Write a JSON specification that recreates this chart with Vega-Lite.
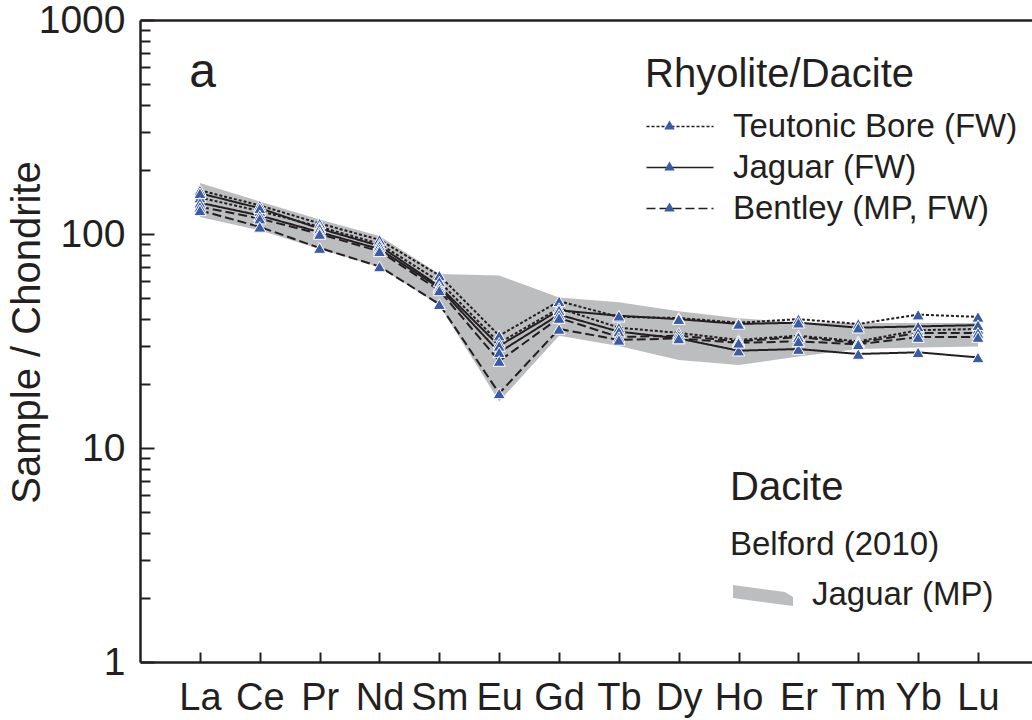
{
  "$schema": "https://vega.github.io/schema/vega-lite/v6.json",
  "width": 892,
  "height": 642,
  "autosize": {"type": "none"},
  "padding": {"left": 140, "top": 20, "right": 0, "bottom": 58},
  "background": "white",
  "config": {"view": {"stroke": null}, "font": "Liberation Sans"},
  "title": {
    "text": "Dacite",
    "subtitle": "Belford (2010)",
    "anchor": "start",
    "frame": "group",
    "orient": "top",
    "dx": 590,
    "dy": 561,
    "offset": 0,
    "fontSize": 40,
    "fontWeight": "normal",
    "subtitleFontSize": 33,
    "subtitlePadding": 21,
    "color": "#231f20",
    "subtitleColor": "#231f20",
    "font": "Liberation Sans",
    "subtitleFont": "Liberation Sans"
  },
  "datasets": {
    "band": [
      {"el": "La", "lo": 120, "hi": 173, "band": "Jaguar (MP)"},
      {"el": "Ce", "lo": 104, "hi": 142, "band": "Jaguar (MP)"},
      {"el": "Pr", "lo": 85, "hi": 117, "band": "Jaguar (MP)"},
      {"el": "Nd", "lo": 70, "hi": 98, "band": "Jaguar (MP)"},
      {"el": "Sm", "lo": 46.5, "hi": 65, "band": "Jaguar (MP)"},
      {"el": "Eu", "lo": 16.5, "hi": 64, "band": "Jaguar (MP)"},
      {"el": "Gd", "lo": 33.5, "hi": 50.5, "band": "Jaguar (MP)"},
      {"el": "Tb", "lo": 30, "hi": 48, "band": "Jaguar (MP)"},
      {"el": "Dy", "lo": 25.8, "hi": 43.5, "band": "Jaguar (MP)"},
      {"el": "Ho", "lo": 24.4, "hi": 40.4, "band": "Jaguar (MP)"},
      {"el": "Er", "lo": 26.8, "hi": 38.6, "band": "Jaguar (MP)"},
      {"el": "Tm", "lo": 29, "hi": 38.4, "band": "Jaguar (MP)"},
      {"el": "Yb", "lo": 29.5, "hi": 38.4, "band": "Jaguar (MP)"},
      {"el": "Lu", "lo": 29.8, "hi": 38.4, "band": "Jaguar (MP)"}
    ],
    "rees": [
      {"s": "TB1", "suite": "Teutonic Bore (FW)", "el": "La", "v": 160},
      {"s": "TB1", "suite": "Teutonic Bore (FW)", "el": "Ce", "v": 136},
      {"s": "TB1", "suite": "Teutonic Bore (FW)", "el": "Pr", "v": 112},
      {"s": "TB1", "suite": "Teutonic Bore (FW)", "el": "Nd", "v": 94},
      {"s": "TB1", "suite": "Teutonic Bore (FW)", "el": "Sm", "v": 64},
      {"s": "TB1", "suite": "Teutonic Bore (FW)", "el": "Eu", "v": 33.5},
      {"s": "TB1", "suite": "Teutonic Bore (FW)", "el": "Gd", "v": 48.5},
      {"s": "TB1", "suite": "Teutonic Bore (FW)", "el": "Tb", "v": 41},
      {"s": "TB1", "suite": "Teutonic Bore (FW)", "el": "Dy", "v": 40.5},
      {"s": "TB1", "suite": "Teutonic Bore (FW)", "el": "Ho", "v": 38.5},
      {"s": "TB1", "suite": "Teutonic Bore (FW)", "el": "Er", "v": 40},
      {"s": "TB1", "suite": "Teutonic Bore (FW)", "el": "Tm", "v": 38},
      {"s": "TB1", "suite": "Teutonic Bore (FW)", "el": "Yb", "v": 42},
      {"s": "TB1", "suite": "Teutonic Bore (FW)", "el": "Lu", "v": 41},
      {"s": "TB2", "suite": "Teutonic Bore (FW)", "el": "La", "v": 148},
      {"s": "TB2", "suite": "Teutonic Bore (FW)", "el": "Ce", "v": 128},
      {"s": "TB2", "suite": "Teutonic Bore (FW)", "el": "Pr", "v": 108},
      {"s": "TB2", "suite": "Teutonic Bore (FW)", "el": "Nd", "v": 90},
      {"s": "TB2", "suite": "Teutonic Bore (FW)", "el": "Sm", "v": 60},
      {"s": "TB2", "suite": "Teutonic Bore (FW)", "el": "Eu", "v": 31},
      {"s": "TB2", "suite": "Teutonic Bore (FW)", "el": "Gd", "v": 45},
      {"s": "TB2", "suite": "Teutonic Bore (FW)", "el": "Tb", "v": 36.5},
      {"s": "TB2", "suite": "Teutonic Bore (FW)", "el": "Dy", "v": 34.5},
      {"s": "TB2", "suite": "Teutonic Bore (FW)", "el": "Ho", "v": 32},
      {"s": "TB2", "suite": "Teutonic Bore (FW)", "el": "Er", "v": 33.5},
      {"s": "TB2", "suite": "Teutonic Bore (FW)", "el": "Tm", "v": 31.5},
      {"s": "TB2", "suite": "Teutonic Bore (FW)", "el": "Yb", "v": 35.5},
      {"s": "TB2", "suite": "Teutonic Bore (FW)", "el": "Lu", "v": 36},
      {"s": "J1", "suite": "Jaguar (FW)", "el": "La", "v": 155},
      {"s": "J1", "suite": "Jaguar (FW)", "el": "Ce", "v": 132},
      {"s": "J1", "suite": "Jaguar (FW)", "el": "Pr", "v": 106},
      {"s": "J1", "suite": "Jaguar (FW)", "el": "Nd", "v": 88},
      {"s": "J1", "suite": "Jaguar (FW)", "el": "Sm", "v": 57},
      {"s": "J1", "suite": "Jaguar (FW)", "el": "Eu", "v": 30},
      {"s": "J1", "suite": "Jaguar (FW)", "el": "Gd", "v": 44},
      {"s": "J1", "suite": "Jaguar (FW)", "el": "Tb", "v": 41.5},
      {"s": "J1", "suite": "Jaguar (FW)", "el": "Dy", "v": 40},
      {"s": "J1", "suite": "Jaguar (FW)", "el": "Ho", "v": 38},
      {"s": "J1", "suite": "Jaguar (FW)", "el": "Er", "v": 38.5},
      {"s": "J1", "suite": "Jaguar (FW)", "el": "Tm", "v": 36.5},
      {"s": "J1", "suite": "Jaguar (FW)", "el": "Yb", "v": 37},
      {"s": "J1", "suite": "Jaguar (FW)", "el": "Lu", "v": 37.5},
      {"s": "J2", "suite": "Jaguar (FW)", "el": "La", "v": 140},
      {"s": "J2", "suite": "Jaguar (FW)", "el": "Ce", "v": 122},
      {"s": "J2", "suite": "Jaguar (FW)", "el": "Pr", "v": 102},
      {"s": "J2", "suite": "Jaguar (FW)", "el": "Nd", "v": 85},
      {"s": "J2", "suite": "Jaguar (FW)", "el": "Sm", "v": 56},
      {"s": "J2", "suite": "Jaguar (FW)", "el": "Eu", "v": 28},
      {"s": "J2", "suite": "Jaguar (FW)", "el": "Gd", "v": 42},
      {"s": "J2", "suite": "Jaguar (FW)", "el": "Tb", "v": 35},
      {"s": "J2", "suite": "Jaguar (FW)", "el": "Dy", "v": 32.5},
      {"s": "J2", "suite": "Jaguar (FW)", "el": "Ho", "v": 28.5},
      {"s": "J2", "suite": "Jaguar (FW)", "el": "Er", "v": 29},
      {"s": "J2", "suite": "Jaguar (FW)", "el": "Tm", "v": 27.5},
      {"s": "J2", "suite": "Jaguar (FW)", "el": "Yb", "v": 28},
      {"s": "J2", "suite": "Jaguar (FW)", "el": "Lu", "v": 26.5},
      {"s": "B1", "suite": "Bentley (MP, FW)", "el": "La", "v": 134},
      {"s": "B1", "suite": "Bentley (MP, FW)", "el": "Ce", "v": 118},
      {"s": "B1", "suite": "Bentley (MP, FW)", "el": "Pr", "v": 100},
      {"s": "B1", "suite": "Bentley (MP, FW)", "el": "Nd", "v": 83},
      {"s": "B1", "suite": "Bentley (MP, FW)", "el": "Sm", "v": 54.5},
      {"s": "B1", "suite": "Bentley (MP, FW)", "el": "Eu", "v": 25.5},
      {"s": "B1", "suite": "Bentley (MP, FW)", "el": "Gd", "v": 40.5},
      {"s": "B1", "suite": "Bentley (MP, FW)", "el": "Tb", "v": 33},
      {"s": "B1", "suite": "Bentley (MP, FW)", "el": "Dy", "v": 33.5},
      {"s": "B1", "suite": "Bentley (MP, FW)", "el": "Ho", "v": 31.5},
      {"s": "B1", "suite": "Bentley (MP, FW)", "el": "Er", "v": 33},
      {"s": "B1", "suite": "Bentley (MP, FW)", "el": "Tm", "v": 31},
      {"s": "B1", "suite": "Bentley (MP, FW)", "el": "Yb", "v": 34.5},
      {"s": "B1", "suite": "Bentley (MP, FW)", "el": "Lu", "v": 34.5},
      {"s": "B2", "suite": "Bentley (MP, FW)", "el": "La", "v": 129},
      {"s": "B2", "suite": "Bentley (MP, FW)", "el": "Ce", "v": 108},
      {"s": "B2", "suite": "Bentley (MP, FW)", "el": "Pr", "v": 86},
      {"s": "B2", "suite": "Bentley (MP, FW)", "el": "Nd", "v": 70.5},
      {"s": "B2", "suite": "Bentley (MP, FW)", "el": "Sm", "v": 47},
      {"s": "B2", "suite": "Bentley (MP, FW)", "el": "Eu", "v": 18},
      {"s": "B2", "suite": "Bentley (MP, FW)", "el": "Gd", "v": 36},
      {"s": "B2", "suite": "Bentley (MP, FW)", "el": "Tb", "v": 32},
      {"s": "B2", "suite": "Bentley (MP, FW)", "el": "Dy", "v": 32.5},
      {"s": "B2", "suite": "Bentley (MP, FW)", "el": "Ho", "v": 31},
      {"s": "B2", "suite": "Bentley (MP, FW)", "el": "Er", "v": 31.5},
      {"s": "B2", "suite": "Bentley (MP, FW)", "el": "Tm", "v": 30.5},
      {"s": "B2", "suite": "Bentley (MP, FW)", "el": "Yb", "v": 33},
      {"s": "B2", "suite": "Bentley (MP, FW)", "el": "Lu", "v": 33}
    ]
  },
  "layer": [
    {
      "data": {"name": "band"},
      "mark": {"type": "area", "color": "#bcbdbf", "opacity": 1},
      "encoding": {
        "x": {
          "field": "el", "type": "ordinal",
          "scale": {"domain": ["La","Ce","Pr","Nd","Sm","Eu","Gd","Tb","Dy","Ho","Er","Tm","Yb","Lu"], "padding": 0.952, "align": 0.526},
          "axis": {
            "orient": "bottom", "title": "a", "titleX": 62, "titleY": -590,
            "titleFontSize": 48, "titleFontWeight": "normal", "titleBaseline": "middle", "titleAlign": "center", "titleColor": "#231f20",
            "labelAngle": 0, "labelFontSize": 38, "labelColor": "#231f20",
            "labelPadding": 27, "tickSize": -10, "tickWidth": 2, "tickColor": "#231f20",
            "domainWidth": 2.5, "domainColor": "#231f20", "grid": false
          }
        },
        "y": {
          "field": "lo", "type": "quantitative", "title": "Sample / Chondrite",
          "scale": {"type": "log", "domain": [1, 1000]},
          "axis": {
            "values": [1,2,3,4,5,6,7,8,9,10,20,30,40,50,60,70,80,90,100,200,300,400,500,600,700,800,900,1000],
            "format": "d",
            "labelExpr": "indexof([1,10,100,1000], datum.value) >= 0 ? datum.label : ''",
            "tickSize": {"condition": {"test": "indexof([1,10,100,1000], datum.value) >= 0", "value": -14}, "value": -10},
            "tickWidth": 2, "tickColor": "#231f20",
            "domainWidth": 2.5, "domainColor": "#231f20",
            "labelFontSize": 39, "labelColor": "#231f20", "labelPadding": 29,
            "grid": false,
            "titleFontSize": 40, "titleFontWeight": "normal", "titleColor": "#231f20",
            "titleX": -113, "titleY": 312, "titleBaseline": "middle", "titleAlign": "center", "titleAngle": 270
          }
        },
        "y2": {"field": "hi"},
        "order": {"value": null},
        "fill": {
          "field": "band", "type": "nominal",
          "scale": {"range": ["#bcbdbf"]},
          "legend": {
            "orient": "none", "legendX": 593, "legendY": 545, "title": null,
            "labelFontSize": 33, "labelColor": "#231f20", "labelOffset": 19, "labelLimit": 0, "padding": 0,
            "symbolType": "M-1,-0.33L0.73,-0.1L1,0.07L1,0.37L-1,0.1Z", "symbolSize": 3600, "symbolStrokeWidth": 0, "symbolOpacity": 1
          }
        }
      }
    },
    {
      "data": {"name": "rees"},
      "mark": {"type": "line", "color": "#231f20", "strokeWidth": 2},
      "encoding": {
        "x": {
          "field": "el", "type": "ordinal",
          "scale": {"domain": ["La","Ce","Pr","Nd","Sm","Eu","Gd","Tb","Dy","Ho","Er","Tm","Yb","Lu"], "padding": 0.952, "align": 0.526},
          "axis": {"orient": "top", "labels": false, "ticks": false, "title": null, "domainWidth": 2.5, "domainColor": "#231f20", "grid": false}
        },
        "y": {"field": "v", "type": "quantitative", "title": "Sample / Chondrite"},
        "detail": {"field": "s"},
        "order": {"value": null},
        "strokeDash": {
          "field": "suite", "type": "nominal",
          "scale": {"domain": ["Teutonic Bore (FW)", "Jaguar (FW)", "Bentley (MP, FW)"], "range": [[3, 2], [1, 0], [9, 4]]},
          "legend": {
            "orient": "none", "legendX": 505, "legendY": 35,
            "title": "Rhyolite/Dacite", "titleFontSize": 40, "titleFontWeight": "normal", "titleColor": "#231f20", "titlePadding": 15, "titleLimit": 0,
            "labelFontSize": 33, "labelColor": "#231f20", "labelOffset": 55, "labelLimit": 0,
            "rowPadding": 7, "padding": 0,
            "symbolType": "M-1.875,0H6.5", "symbolSize": 256, "symbolStrokeColor": "#231f20", "symbolStrokeWidth": 1.5, "symbolFillColor": "transparent"
          }
        }
      }
    },
    {
      "data": {"name": "rees"},
      "mark": {"type": "point", "filled": true, "fill": "#3a5ba8", "stroke": "white", "strokeWidth": 1, "size": 150, "opacity": 1},
      "encoding": {
        "x": {
          "field": "el", "type": "ordinal",
          "scale": {"domain": ["La","Ce","Pr","Nd","Sm","Eu","Gd","Tb","Dy","Ho","Er","Tm","Yb","Lu"], "padding": 0.952, "align": 0.526},
          "axis": null
        },
        "y": {"field": "v", "type": "quantitative", "title": "Sample / Chondrite"},
        "shape": {
          "field": "suite", "type": "nominal",
          "scale": {"range": ["triangle-up"]},
          "legend": {
            "orient": "none", "legendX": 523.5, "legendY": 99,
            "title": null,
            "labelExpr": "''", "labelFontSize": 1, "labelOffset": 0,
            "rowPadding": 27, "padding": 0,
            "symbolType": "triangle-up", "symbolSize": 110, "symbolFillColor": "#3a5ba8", "symbolStrokeColor": "white", "symbolStrokeWidth": 1, "symbolOpacity": 1
          }
        }
      }
    }
  ],
  "resolve": {"axis": {"x": "independent"}}
}
